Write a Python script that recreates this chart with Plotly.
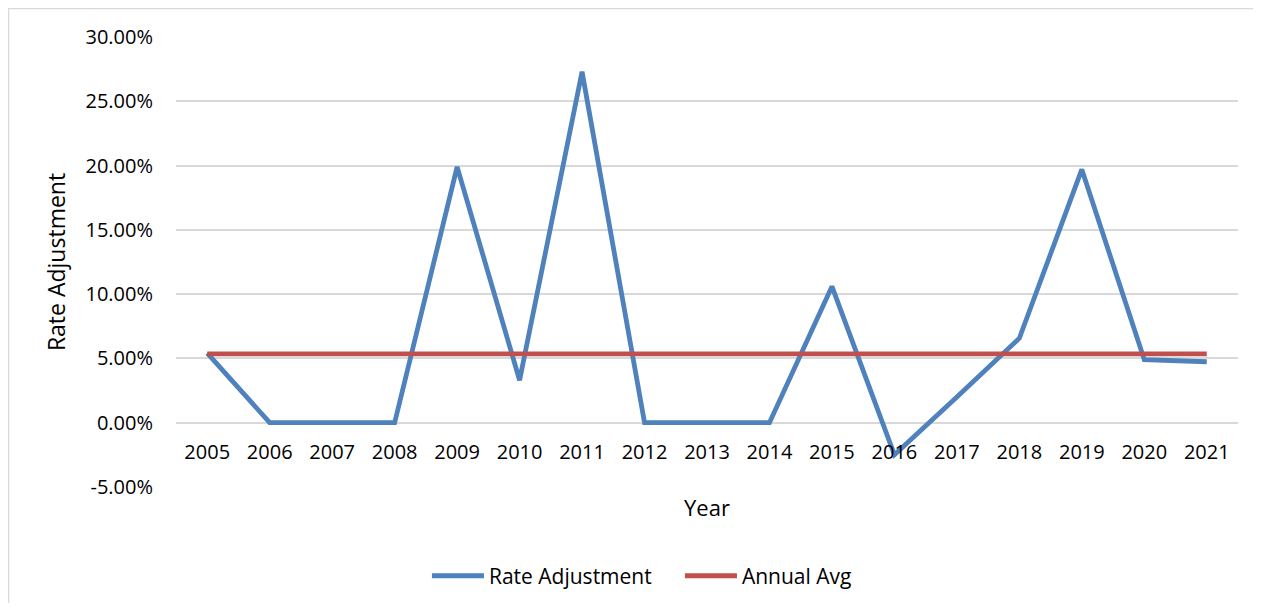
import plotly.graph_objects as go

years = ["2005", "2006", "2007", "2008", "2009", "2010", "2011", "2012", "2013",
         "2014", "2015", "2016", "2017", "2018", "2019", "2020", "2021"]
rate_adjustment = [0.0541, 0.0, 0.0, 0.0, 0.199, 0.033, 0.273, 0.0, 0.0,
                   0.0, 0.106, -0.025, 0.020, 0.0657, 0.197, 0.049, 0.0474]
annual_avg = [0.0536] * len(years)

y_tick_vals = [-0.05, 0.0, 0.05, 0.10, 0.15, 0.20, 0.25, 0.30]
y_tick_text = ["-5.00%", "0.00%", "5.00%", "10.00%", "15.00%", "20.00%", "25.00%", "30.00%"]

FONT = "Open Sans"
BLUE = "#4F81BD"
RED = "#C0504D"
GRID = "#D9D9D9"

fig = go.Figure()
fig.add_trace(go.Scatter(x=years, y=rate_adjustment, mode="lines", name="Rate Adjustment",
                         line=dict(color=BLUE, width=4.8)))
fig.add_trace(go.Scatter(x=years, y=annual_avg, mode="lines", name="Annual Avg",
                         line=dict(color=RED, width=4.8)))

fig.update_layout(
    width=1245, height=595,
    margin=dict(l=168, r=15, t=29, b=116, autoexpand=False),
    paper_bgcolor="white", plot_bgcolor="white",
    font=dict(family=FONT, size=20, color="#000000"),
    showlegend=True,
    legend=dict(orientation="h", x=0.2363, xanchor="left", y=-0.198, yanchor="middle",
                font=dict(family=FONT, size=21, color="#000000"), itemwidth=52,
                entrywidth=186, entrywidthmode="pixels",
                bgcolor="rgba(0,0,0,0)", traceorder="normal"),
    xaxis=dict(type="category", range=[-0.5, 16.5], anchor="free", position=1/7,
               showgrid=False, showline=False, zeroline=False, ticks="",
               ticklabelstandoff=15, tickfont=dict(size=20),
               title=dict(text="Year", standoff=36, font=dict(size=22))),
    yaxis=dict(range=[-0.05, 0.30], tickvals=y_tick_vals, ticktext=y_tick_text,
               showgrid=True, gridcolor=GRID, gridwidth=1.5, zeroline=False,
               showline=False, ticks="", ticklabelstandoff=22, tickfont=dict(size=20),
               title=dict(text="Rate Adjustment", standoff=13, font=dict(size=23))),
    shapes=[dict(type="rect", xref="paper", yref="paper", x0=-0.1577, y0=-0.4,
                 x1=1.1, y1=1.0633, line=dict(color=GRID, width=1.5), layer="below")],
)

fig.write_html("out.html")
